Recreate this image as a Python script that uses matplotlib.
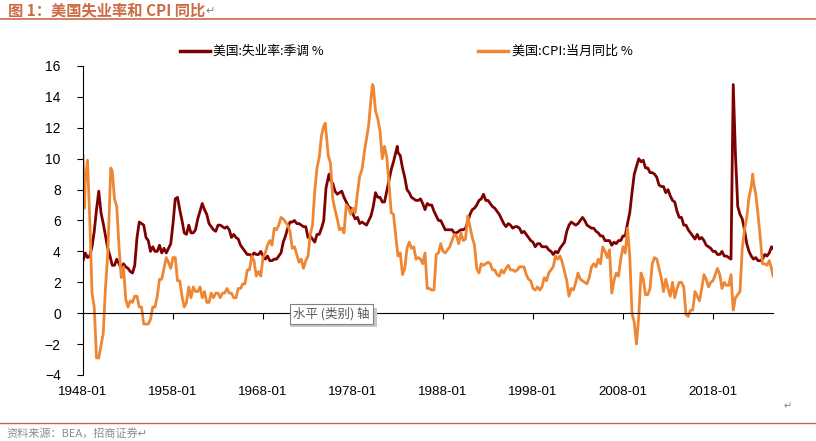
import pandas as pd
import matplotlib
matplotlib.use("Agg")
import matplotlib.pyplot as plt
from matplotlib.lines import Line2D
from matplotlib.patches import Rectangle
from matplotlib.transforms import blended_transform_factory

plt.rcParams['font.family'] = ['Liberation Sans', 'Noto Sans CJK SC', 'DejaVu Sans']

# 季度取点 (1/4/7/10 月), 1948-01 起
unemp_q = [
    3.4, 3.9, 3.6, 3.7,   4.3, 5.3, 6.7, 7.9,   6.5, 5.8, 5.0, 4.2,   3.7, 3.1, 3.1, 3.5,
    3.2, 2.9, 3.2, 3.0,   2.9, 2.7, 2.6, 3.1,   4.9, 5.9, 5.8, 5.7,   4.9, 4.7, 4.0, 4.3,
    4.0, 4.0, 4.4, 3.9,   4.2, 3.9, 4.2, 4.5,   5.8, 7.4, 7.5, 6.7,   6.0, 5.2, 5.1, 5.7,
    5.2, 5.2, 5.4, 6.1,   6.6, 7.1, 6.7, 6.4,   5.8, 5.6, 5.4, 5.3,   5.7, 5.7, 5.6, 5.5,
    5.6, 5.4, 4.9, 5.1,   4.9, 4.8, 4.4, 4.2,   4.0, 3.8, 3.8, 3.7,   3.9, 3.8, 3.8, 4.0,
    3.7, 3.5, 3.7, 3.4,   3.4, 3.5, 3.5, 3.7,   3.9, 4.6, 5.0, 5.5,   5.9, 5.9, 6.0, 5.8,
    5.8, 5.7, 5.6, 5.6,   4.9, 5.0, 4.8, 4.6,   5.1, 5.1, 5.5, 6.0,   8.1, 8.8, 8.6, 8.4,
    7.9, 7.7, 7.8, 7.9,   7.5, 7.2, 6.9, 6.8,   6.4, 6.1, 6.2, 5.8,   5.9, 5.8, 5.7, 6.0,
    6.3, 6.9, 7.8, 7.5,   7.5, 7.2, 7.2, 7.9,   8.6, 9.3, 9.8, 10.4,  10.4, 10.2, 9.4, 8.8,
    8.0, 7.8, 7.5, 7.4,   7.3, 7.3, 7.4, 7.1,   6.7, 7.1, 7.0, 7.0,   6.6, 6.3, 6.0, 6.0,
    5.7, 5.4, 5.4, 5.4,   5.4, 5.2, 5.2, 5.3,   5.4, 5.4, 5.5, 5.9,   6.4, 6.7, 6.8, 7.0,
    7.3, 7.4, 7.7, 7.3,   7.3, 7.1, 6.9, 6.8,   6.6, 6.4, 6.1, 5.8,   5.6, 5.8, 5.7, 5.5,
    5.6, 5.6, 5.5, 5.2,   5.3, 5.1, 4.9, 4.7,   4.6, 4.3, 4.5, 4.5,   4.3, 4.3, 4.3, 4.1,
    4.0, 3.8, 4.0, 3.9,   4.2, 4.4, 4.6, 5.3,   5.7, 5.9, 5.8, 5.7,   5.8, 6.0, 6.2, 6.0,
    5.7, 5.6, 5.5, 5.5,   5.3, 5.2, 5.0, 5.0,   4.7, 4.7, 4.7, 4.4,   4.6, 4.5, 4.7, 4.7,
    5.0, 5.0, 5.8, 6.5,   7.8, 9.0, 9.5, 10.0,  9.8, 9.9, 9.4, 9.4,   9.1, 9.1, 9.0, 8.8,
    8.3, 8.2, 8.2, 7.8,   8.0, 7.6, 7.3, 7.2,   6.6, 6.2, 6.2, 5.7,   5.7, 5.4, 5.2, 5.0,
    4.8, 5.1, 4.8, 4.9,   4.7, 4.4, 4.3, 4.2,   4.0, 4.0, 3.8, 3.8,   4.0, 3.7, 3.7, 3.6,
    3.5, 14.8, 10.2, 6.9, 6.4, 6.1, 5.4, 4.5,   4.0, 3.7, 3.5, 3.6,   3.4, 3.4, 3.5, 3.8,
    3.7, 3.9, 4.3,
]
unemp_extra_dates = ["1975-05", "1982-12", "2024-09"]
unemp_extra_vals = [9.0, 10.8, 4.2]

cpi_q = [
    10.2, 8.5, 9.9, 6.1,  1.3, 0.4, -2.9, -2.9,  -2.1, -1.3, 1.7, 3.8,  8.1, 9.2, 7.4, 6.9,
    4.3, 2.3, 3.0, 0.9,   0.4, 0.8, 0.7, 1.1,   1.1, 0.4, 0.4, -0.7,  -0.7, -0.7, -0.4, 0.4,
    0.4, 1.1, 2.2, 2.2,   2.9, 3.6, 3.3, 2.9,   3.6, 3.6, 2.1, 2.1,   1.1, 0.4, 0.7, 1.7,
    1.0, 1.7, 1.4, 1.4,   1.7, 1.0, 1.4, 0.7,   0.7, 1.3, 1.0, 1.3,   1.3, 1.0, 1.3, 1.3,
    1.6, 1.3, 1.3, 1.0,   1.0, 1.6, 1.6, 1.9,   1.9, 2.8, 2.8, 3.7,   3.4, 2.4, 2.7, 2.4,
    3.6, 3.9, 4.4, 4.7,   4.4, 5.5, 5.4, 5.7,   6.2, 6.1, 5.9, 5.7,   5.3, 4.2, 4.3, 3.8,
    3.3, 3.5, 2.9, 3.4,   3.7, 5.1, 5.7, 7.9,   9.4, 10.1, 11.5, 12.1, 11.8, 10.2, 9.7, 7.4,
    6.7, 6.1, 5.4, 5.5,   5.2, 7.0, 6.8, 6.4,   6.8, 6.5, 7.8, 8.9,   9.3, 10.4, 11.3, 12.2,
    13.9, 14.7, 13.1, 12.6, 11.8, 10.0, 10.8, 10.1, 8.4, 6.5, 6.4, 5.0, 3.7, 3.9, 2.5, 2.9,
    4.2, 4.6, 4.2, 4.3,   3.5, 3.6, 3.5, 3.2,   3.9, 1.6, 1.6, 1.5,   1.5, 3.8, 3.9, 4.5,
    4.0, 3.9, 4.1, 4.3,   4.7, 5.1, 5.0, 4.5,   5.2, 4.7, 4.8, 6.3,   5.6, 4.9, 4.4, 2.9,
    2.6, 3.2, 3.1, 3.2,   3.3, 3.2, 2.8, 2.8,   2.5, 2.4, 2.8, 2.6,   2.9, 3.1, 2.8, 2.8,
    2.7, 2.8, 3.0, 3.0,   3.0, 2.5, 2.2, 2.1,   1.6, 1.5, 1.7, 1.5,   1.7, 2.3, 2.1, 2.6,
    2.8, 3.0, 3.7, 3.5,   3.7, 3.3, 2.7, 2.1,   1.1, 1.6, 1.5, 2.0,   2.6, 2.2, 2.1, 2.0,
    1.9, 2.3, 3.0, 3.2,   3.0, 3.5, 3.2, 4.3,   4.0, 3.6, 4.1, 1.3,   2.1, 2.6, 2.4, 3.5,
    4.3, 3.9, 5.5, 3.7,   0.0, -0.6, -2.0, -0.2, 2.6, 2.2, 1.2, 1.2,  1.6, 3.2, 3.6, 3.5,
    2.9, 2.3, 1.4, 2.2,   1.6, 1.1, 2.0, 1.0,   1.6, 2.0, 2.0, 1.7,   -0.1, -0.2, 0.2, 0.2,
    1.4, 1.1, 0.8, 1.6,   2.5, 2.2, 1.7, 2.0,   2.1, 2.5, 2.9, 2.5,   1.6, 2.0, 1.8, 1.8,
    2.5, 0.2, 1.0, 1.2,   1.4, 4.2, 5.4, 6.2,   7.5, 8.2, 8.5, 7.7,   6.4, 4.9, 3.2, 3.2,
    3.1, 3.4, 2.9,
]
cpi_extra_dates = ["1948-03", "1951-02", "1974-12", "1980-03", "2022-06", "2024-09"]
cpi_extra_vals = [6.8, 9.4, 12.3, 14.8, 9.0, 2.4]

tick_labels = ["1948-01", "1958-01", "1968-01", "1978-01", "1988-01",
               "1998-01", "2008-01", "2018-01"]


def month_idx(s):
    y, m = s.split("-")
    return (int(y) - 1948) * 12 + int(m) - 1


def build(q_vals, extra_dates, extra_vals):
    q_dates = pd.date_range("1948-01-01", periods=len(q_vals), freq="QS").strftime("%Y-%m")
    df = pd.DataFrame({"d": list(q_dates) + extra_dates, "v": list(q_vals) + extra_vals})
    df["x"] = df["d"].apply(month_idx)
    return df.sort_values("x")


unemp = build(unemp_q, unemp_extra_dates, unemp_extra_vals)
cpi = build(cpi_q, cpi_extra_dates, cpi_extra_vals)

red = "#7F0000"
orange = "#EF8633"
accent = "#CC6A45"
cjk = ["Noto Sans CJK SC", "DejaVu Sans"]

fig = plt.figure(figsize=(8.16, 4.41), dpi=100)
ax = fig.add_axes([83 / 816, 1 - 375 / 441, 690 / 816, 309 / 441])

ax.plot(unemp["x"], unemp["v"], color=red, lw=2.0, solid_joinstyle="round")
ax.plot(cpi["x"], cpi["v"], color=orange, lw=2.0, solid_joinstyle="round")

ax.set_xlim(0, month_idx("2024-09"))
ax.set_ylim(-4, 16)
ax.set_yticks(range(-4, 17, 2))
ax.tick_params(axis="y", direction="out", length=4, width=0.8, labelsize=10, pad=12)

for s in ["top", "right"]:
    ax.spines[s].set_visible(False)
ax.spines["bottom"].set_position(("data", 0))
ax.spines["left"].set_linewidth(0.8)
ax.spines["bottom"].set_linewidth(0.8)

xt = [month_idx(t) for t in tick_labels]
ax.set_xticks(xt)
ax.set_xticklabels([])
ax.tick_params(axis="x", direction="out", length=4, width=0.8)
trans = blended_transform_factory(ax.transData, ax.transAxes)
for x, lab in zip(xt, tick_labels):
    ax.text(x, -0.035, lab, transform=trans, ha="center", va="top", fontsize=9.6)

# 图例
fig.add_artist(Line2D([180 / 816, 210 / 816], [1 - 51 / 441] * 2, color=red, lw=2.5))
fig.text(213 / 816, 1 - 51 / 441, "美国:失业率:季调 %", fontsize=9.2, va="center", family=cjk)
fig.add_artist(Line2D([478 / 816, 508 / 816], [1 - 51 / 441] * 2, color=orange, lw=2.5))
fig.text(512 / 816, 1 - 51 / 441, "美国:CPI:当月同比 %", fontsize=9.4, va="center", family=cjk)

# 标题与脚注
fig.text(8 / 816, 1 - 10 / 441, "图 1：美国失业率和 CPI 同比", fontsize=11, fontweight="bold",
         color=accent, va="center", family=cjk)
fig.text(205 / 816, 1 - 11 / 441, "↵", fontsize=8, color="#808080", va="center")
fig.add_artist(Line2D([0, 1], [1 - 19 / 441] * 2, color=accent, lw=1.2))
fig.add_artist(Line2D([0, 1], [1 - 423 / 441] * 2, color=accent, lw=1.0))
fig.text(6 / 816, 1 - 433 / 441, "资料来源：BEA，招商证券↵", fontsize=8, color="#8C8C8C",
         va="center", family=cjk)
fig.text(784 / 816, 1 - 406 / 441, "↵", fontsize=7, color="#808080", va="center")

# 坐标轴提示框 (带阴影)
fig.add_artist(Rectangle((290 / 816, 1 - 327 / 441), 87 / 816, 19 / 441,
                         transform=fig.transFigure, fc="#C8C8C8", ec="none", zorder=4))
fig.text(293 / 816, 1 - 314 / 441, "水平 (类别) 轴", fontsize=9, color="#595959", va="center",
         family=cjk, zorder=5,
         bbox=dict(boxstyle="square,pad=0.25", fc="white", ec="#808080", lw=0.8))

fig.savefig("out.png", dpi=100)
